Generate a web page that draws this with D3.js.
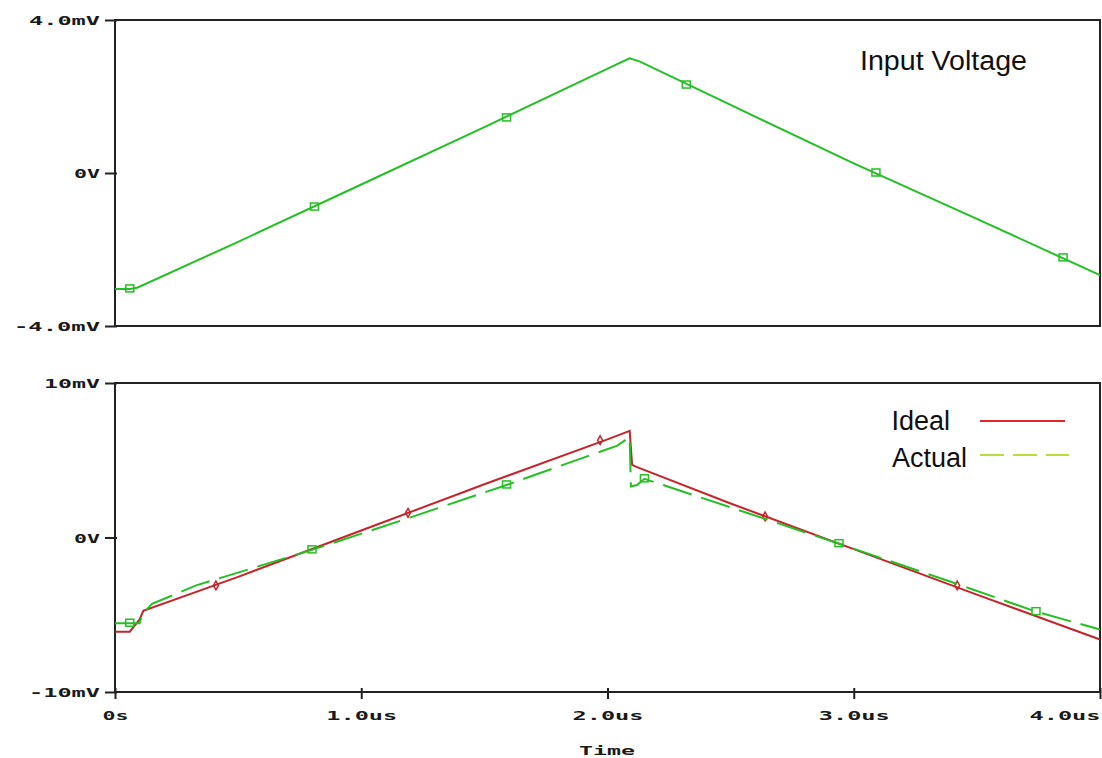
<!DOCTYPE html>
<html>
<head>
<meta charset="utf-8">
<script src="https://cdn.jsdelivr.net/npm/d3@7"></script>
<style>
  body { margin: 0; background: #fff; }
  svg { display: block; }
  .lbl { font-family: "DejaVu Sans Mono", monospace; font-weight: bold; font-size: 13px; fill: #1a1a1a; }
  .big { font-family: "Liberation Sans", Arial, sans-serif; font-size: 27px; fill: #111; }
</style>
</head>
<body>
<div id="chart"></div>
<script>
// input voltage (top plot), time in us, value in mV
const inTime  = [0, 0.06, 0.09, 0.5, 1.0, 1.5, 1.9, 2.05, 2.09, 2.13, 2.5, 3.0, 3.5, 4.0];
const inValue = [-3.03, -3.03, -3.0, -1.8, -0.3, 1.2, 2.42, 2.88, 3.0, 2.92, 1.78, 0.25, -1.2, -2.67];
const inMarkTime  = [0.06, 0.81, 1.59, 2.32, 3.09, 3.85];
const inMarkValue = [-3.03, -0.89, 1.44, 2.3, 0.0, -2.22];

// ideal output (bottom plot)
const idealTime  = [0, 0.06, 0.1, 0.115, 0.5, 1.0, 1.5, 2.0, 2.09, 2.1, 2.12, 2.5, 3.0, 3.5, 4.0];
const idealValue = [-6.1, -6.1, -5.3, -4.75, -2.55, 0.45, 3.45, 6.35, 6.9, 4.7, 4.55, 2.2, -0.75, -3.7, -6.6];
const idealMarkTime  = [0.41, 1.19, 1.97, 2.64, 3.42];
const idealMarkValue = [-3.1, 1.6, 6.3, 1.36, -3.1];

// actual output (bottom plot)
const actualTime  = [0, 0.1, 0.11, 0.15, 0.33, 0.8, 1.2, 1.59, 2.04, 2.09, 2.095, 2.12, 2.15, 2.5, 2.94, 3.4, 3.74, 4.0];
const actualValue = [-5.55, -5.55, -5.0, -4.3, -3.1, -0.8, 1.3, 3.4, 5.95, 6.5, 3.3, 3.4, 3.8, 1.95, -0.4, -2.9, -4.8, -5.95];
const actualMarkTime  = [0.06, 0.8, 1.59, 2.15, 2.94, 3.74];
const actualMarkValue = [-5.55, -0.8, 3.4, 3.8, -0.4, -4.8];

const xTicks = [0, 1, 2, 3, 4];
const xTickLabels = ["0s", "1.0us", "2.0us", "3.0us", "4.0us"];
const topTicks = [-4, 0, 4];
const topTickLabels = ["-4.0mV", "0V", "4.0mV"];
const botTicks = [-10, 0, 10];
const botTickLabels = ["-10mV", "0V", "10mV"];

const W = 1102, H = 758;
const green = "#22c022", red = "#c4242a", axisCol = "#222";

const svg = d3.select("#chart").append("svg")
    .attr("width", W).attr("height", H)
    .attr("viewBox", [0, 0, W, H]);

const x = d3.scaleLinear().domain([0, 4]).range([115, 1100]);
const yTop = d3.scaleLinear().domain([-4, 4]).range([326, 20]);
const yBot = d3.scaleLinear().domain([-10, 10]).range([692, 383]);

function fitText(sel) {
    // pixel-style wide labels, about 15px per character
    sel.attr("textLength", function () { return this.textContent.length * 15 - 4; })
       .attr("lengthAdjust", "spacingAndGlyphs");
}

function yAxis(scale, ticks, labels) {
    const g = svg.append("g").attr("transform", "translate(115,0)")
        .call(d3.axisLeft(scale).tickValues(ticks)
            .tickFormat((d, i) => labels[i]).tickSize(10).tickPadding(5));
    g.select(".domain").remove();
    g.selectAll(".tick line").attr("x1", 2).attr("stroke", axisCol).attr("stroke-width", 2);
    g.selectAll(".tick text").attr("class", "lbl").attr("dy", "0.36em")
        .attr("font-family", null).attr("font-size", null).attr("fill", null)
        .call(fitText);
}

function frame(scale) {
    svg.append("rect")
        .attr("x", x(0)).attr("y", scale.range()[1])
        .attr("width", x(4) - x(0)).attr("height", scale.range()[0] - scale.range()[1])
        .attr("fill", "none").attr("stroke", axisCol).attr("stroke-width", 2);
}

frame(yTop);
frame(yBot);
yAxis(yTop, topTicks, topTickLabels);
yAxis(yBot, botTicks, botTickLabels);

// x axis under the bottom plot
const gx = svg.append("g").attr("transform", "translate(0,692)")
    .call(d3.axisBottom(x).tickValues(xTicks)
        .tickFormat((d, i) => xTickLabels[i]).tickSize(7).tickPadding(12));
gx.select(".domain").remove();
gx.selectAll(".tick line").attr("y1", -4).attr("stroke", axisCol).attr("stroke-width", 2);
gx.selectAll(".tick text").attr("class", "lbl").attr("dy", "0.71em")
    .attr("font-family", null).attr("font-size", null).attr("fill", null)
    .attr("text-anchor", (d, i) => i === xTicks.length - 1 ? "end" : "middle")
    .call(fitText);

svg.append("text").attr("class", "lbl")
    .attr("x", 607).attr("y", 755).attr("text-anchor", "middle")
    .text("Time").call(fitText);

function drawLine(times, values, scale, color, dash) {
    const line = d3.line().x(i => x(times[i])).y(i => scale(values[i]));
    svg.append("path")
        .attr("d", line(d3.range(times.length)))
        .attr("fill", "none").attr("stroke", color).attr("stroke-width", 2)
        .attr("stroke-dasharray", dash || null);
}

function squares(times, values, scale, color) {
    svg.append("g").selectAll("rect")
        .data(d3.range(times.length)).join("rect")
        .attr("x", i => x(times[i]) - 4).attr("y", i => scale(values[i]) - 4)
        .attr("width", 8).attr("height", 7)
        .attr("fill", "none").attr("stroke", color).attr("stroke-width", 1.5);
}

function diamonds(times, values, scale, color) {
    svg.append("g").selectAll("path")
        .data(d3.range(times.length)).join("path")
        .attr("d", d3.symbol(d3.symbolDiamond, 22))
        .attr("transform", i => `translate(${x(times[i])},${scale(values[i])})`)
        .attr("fill", "none").attr("stroke", color).attr("stroke-width", 1.5);
}

drawLine(inTime, inValue, yTop, green);
squares(inMarkTime, inMarkValue, yTop, green);

drawLine(idealTime, idealValue, yBot, red);
diamonds(idealMarkTime, idealMarkValue, yBot, red);
drawLine(actualTime, actualValue, yBot, green, "30,10");
squares(actualMarkTime, actualMarkValue, yBot, green);

// titles and legend
svg.append("text").attr("class", "big").attr("x", 860).attr("y", 70)
    .attr("textLength", 167).attr("lengthAdjust", "spacingAndGlyphs").text("Input Voltage");
svg.append("text").attr("class", "big").attr("x", 950).attr("y", 430)
    .attr("text-anchor", "end").text("Ideal");
svg.append("text").attr("class", "big").attr("x", 967).attr("y", 467)
    .attr("text-anchor", "end").text("Actual");
svg.append("line").attr("x1", 980).attr("x2", 1065).attr("y1", 421).attr("y2", 421)
    .attr("stroke", "#e02828").attr("stroke-width", 2);
svg.append("line").attr("x1", 980).attr("x2", 1069).attr("y1", 455).attr("y2", 455)
    .attr("stroke", "#b4e03c").attr("stroke-width", 2).attr("stroke-dasharray", "24,9");
</script>
</body>
</html>
